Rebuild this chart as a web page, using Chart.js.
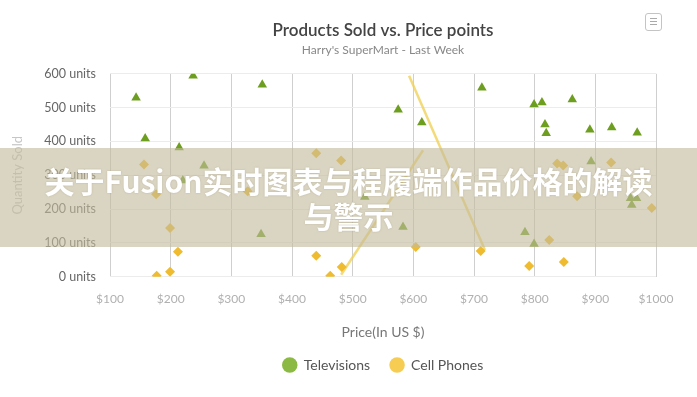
<!DOCTYPE html>
<html>
<head>
<meta charset="utf-8">
<script src="https://cdn.jsdelivr.net/npm/chart.js@4.4.1/dist/chart.umd.min.js"></script>
<style>
  html, body { margin: 0; padding: 0; background: #fff; }
  #wrap { position: relative; width: 697px; height: 397px; }
  canvas { display: block; }
  #menu { position: absolute; left: 645px; top: 13px; width: 17px; height: 18px; border: 1px solid #c4c4c4; border-radius: 3px; box-sizing: border-box; }
  #menu i { position: absolute; left: 4px; width: 7px; height: 1px; background: #aaa; }
  #banner { position: absolute; left: 0; top: 148px; width: 697px; height: 99px; background: rgba(196,188,156,0.62);
    display: flex; align-items: center; justify-content: center; text-align: center;
    font-family: "Noto Sans CJK SC", "Noto Sans", sans-serif; font-weight: 700; font-size: 30px; line-height: 35px;
    color: #fff; text-shadow: 0 0 2px rgba(120,110,80,0.35); }
</style>
</head>
<body>
<div id="wrap">
  <canvas id="c" width="697" height="397"></canvas>
  <div id="menu"><i style="top:4px"></i><i style="top:7px"></i><i style="top:10px"></i></div>
  <div id="banner"><div>关于Fusion实时图表与程履端作品价格的解读<br>与警示</div></div>
</div>
<script>
// ---- data ----
const seriesNames = ["Televisions", "Cell Phones"];
const tvPrice = [143, 158, 237, 214, 255, 220, 351, 349, 520, 583, 575, 614, 713, 799, 812, 862, 817, 819, 891, 927, 969, 893, 958, 968, 960, 784, 799];
const tvSold  = [529, 409, 594, 382, 328, 285, 568, 126, 236, 147, 494, 456, 559, 509, 515, 524, 450, 424, 435, 441, 426, 341, 232, 232, 212, 132, 97];
const phonePrice = [156, 176, 199, 212, 177, 199, 327, 440, 481, 440, 463, 482, 604, 711, 837, 847, 926, 870, 993, 824, 791, 848];
const phoneSold  = [332, 244, 144, 74, 3, 15, 253, 365, 344, 62, 3, 29, 88, 76, 335, 329, 338, 238, 203, 109, 32, 44];
const trendUpPrice = [481, 616];
const trendUpSold = [6, 374];
const trendDownPrice = [593, 718];
const trendDownSold = [594, 79];
const xTicks = [100, 200, 300, 400, 500, 600, 700, 800, 900, 1000];
const yTicks = [0, 100, 200, 300, 400, 500, 600];
const yTitle = 'Quantity Sold';

const pts = (xs, ys) => xs.map((x, i) => ({ x: x, y: ys[i] }));
const FONT = "Lato, 'Open Sans', sans-serif";

const yTitlePlugin = {
  id: 'yTitle',
  afterDraw(chart) {
    const { ctx, chartArea } = chart;
    ctx.save();
    ctx.translate(18, (chartArea.top + chartArea.bottom) / 2);
    ctx.rotate(-Math.PI / 2);
    ctx.font = '13px ' + FONT;
    ctx.fillStyle = '#c6c6c6';
    ctx.textAlign = 'center';
    ctx.textBaseline = 'middle';
    ctx.fillText(yTitle, 0, 0);
    ctx.restore();
  }
};

new Chart(document.getElementById('c'), {
  type: 'scatter',
  plugins: [yTitlePlugin],
  data: {
    datasets: [
      { label: seriesNames[0], data: pts(tvPrice, tvSold), pointStyle: 'triangle', pointRadius: 5.5, pointHoverRadius: 5.5,
        backgroundColor: '#6e9e1f', borderColor: '#6e9e1f', borderWidth: 0, order: 1 },
      { label: seriesNames[1], data: pts(phonePrice, phoneSold), pointStyle: 'rectRot', pointRadius: 5, pointHoverRadius: 5,
        backgroundColor: '#efbb2f', borderColor: '#efbb2f', borderWidth: 0, order: 1 },
      { label: 'trend1', type: 'line', data: pts(trendUpPrice, trendUpSold), showLine: true, pointRadius: 0,
        borderColor: 'rgba(240,210,90,0.8)', borderWidth: 2.5, fill: false, order: 2 },
      { label: 'trend2', type: 'line', data: pts(trendDownPrice, trendDownSold), showLine: true, pointRadius: 0,
        borderColor: 'rgba(240,210,90,0.8)', borderWidth: 2.5, fill: false, order: 2 }
    ]
  },
  options: {
    responsive: false,
    animation: false,
    layout: { padding: { left: 110, right: 41, top: 0, bottom: 15 } },
    plugins: {
      title: { display: true, text: 'Products Sold vs. Price points', color: '#444',
        font: { family: FONT, size: 17, weight: '600' }, padding: { top: 20, bottom: 3 } },
      subtitle: { display: true, text: "Harry's SuperMart - Last Week", color: '#888',
        font: { family: FONT, size: 12 }, padding: { top: 0, bottom: 16 } },
      legend: {
        position: 'bottom',
        labels: {
          font: { family: FONT, size: 14 }, color: '#555', boxHeight: 11, padding: 20, usePointStyle: true,
          generateLabels: () => [
            { text: seriesNames[0], fillStyle: '#8bb944', strokeStyle: '#8bb944', lineWidth: 0, pointStyle: 'circle', datasetIndex: 0, fontColor: '#555' },
            { text: seriesNames[1], fillStyle: '#f6cd52', strokeStyle: '#f6cd52', lineWidth: 0, pointStyle: 'circle', datasetIndex: 1, fontColor: '#555' }
          ]
        }
      },
      tooltip: { enabled: false }
    },
    scales: {
      x: {
        type: 'linear', min: 100, max: 1000,
        afterBuildTicks: s => { s.ticks = xTicks.map(v => ({ value: v })); },
        ticks: { callback: v => '$' + v, color: '#b0b0b0', font: { family: FONT, size: 12 }, padding: 15 },
        grid: { color: '#cfcfcf', drawTicks: false },
        border: { display: false },
        title: { display: true, text: 'Price(In US $)', color: '#777', font: { family: FONT, size: 14 }, padding: { top: 3, bottom: -3 } }
      },
      y: {
        min: 0, max: 600,
        afterBuildTicks: s => { s.ticks = yTicks.map(v => ({ value: v })); },
        afterFit: s => { s.width = 0; s._computeLabelArea = () => undefined; },
        ticks: { callback: v => v + ' units', color: '#666', font: { family: FONT, size: 12.5 }, padding: 14 },
        grid: { color: '#ececec', drawTicks: false },
        border: { display: false },
        title: { display: false }
      }
    }
  }
});
</script>
</body>
</html>
